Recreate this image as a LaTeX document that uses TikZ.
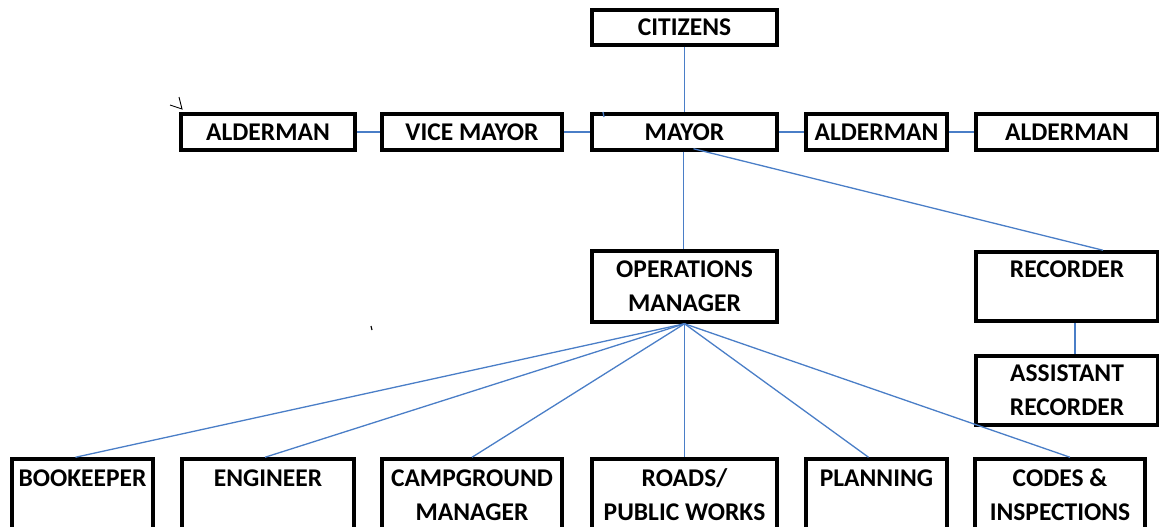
\documentclass[tikz,border=0pt]{standalone}
\usepackage{fontspec}
\setmainfont{Carlito}
\usepackage{tikz}

\definecolor{linkblue}{HTML}{4A7EC7}

\tikzset{
  post/.style={draw, line width=3.5pt, align=center, inner sep=0pt,
    font=\bfseries\fontsize{25.5}{34}\selectfont},
  link/.style={draw=linkblue, line width=1.3pt}
}

\begin{document}
\begin{tikzpicture}[x=1pt,y=-1pt]
      \clip (0,0) rectangle (1159,527);
      \useasboundingbox (0,0) rectangle (1159,527);

      % top
      \node[post,minimum width=185,minimum height=35] (citizens) at (684.5,27.5) {CITIZENS};
      \node[post,minimum width=185,minimum height=36] (mayor) at (684.5,132) {MAYOR};
      \node[post,minimum width=180,minimum height=36] (vice) at (472,132) {VICE MAYOR};
      \node[post,minimum width=174,minimum height=36] (alder1) at (268,132) {ALDERMAN};
      \node[post,minimum width=141,minimum height=36] (alder2) at (876.5,132) {ALDERMAN};
      \node[post,minimum width=182,minimum height=36] (alder3) at (1067,132) {ALDERMAN};

      % middle
      \node[post,minimum width=185,minimum height=71] (ops) at (684.5,286.5) {OPERATIONS\\MANAGER};
      \node[post,minimum width=182,minimum height=69] (recorder) at (1067,286.5) {RECORDER\\ \mbox{}};
      \node[post,minimum width=182,minimum height=69] (assist) at (1067,390.5) {ASSISTANT\\RECORDER};

      % bottom
      \node[post,minimum width=141,minimum height=72] (bookkeeper) at (82.5,495) {BOOKEEPER\\ \mbox{}};
      \node[post,minimum width=172,minimum height=72] (engineer) at (268,495) {ENGINEER\\ \mbox{}};
      \node[post,minimum width=180,minimum height=72] (camp) at (472,495) {CAMPGROUND\\MANAGER};
      \node[post,minimum width=185,minimum height=72] (roads) at (684.5,495) {ROADS/\\PUBLIC WORKS};
      \node[post,minimum width=141,minimum height=72] (planning) at (876.5,495) {PLANNING\\ \mbox{}};
      \node[post,minimum width=170,minimum height=72] (codes) at (1060,495) {CODES \&\\INSPECTIONS};

      \draw[link] (citizens) -- (mayor);
      \draw[link] (alder1) -- (vice);
      \draw[link] (vice) -- (mayor);
      \draw[link] (mayor) -- (alder2);
      \draw[link] (alder2) -- (alder3);
      \draw[link] ([xshift=-1]mayor.south) -- ([xshift=-1]ops.north);
      \draw[link] ([xshift=9,yshift=3]mayor.south) -- ([xshift=36]recorder.north);
      \draw[link] ([xshift=8]recorder.south) -- ([xshift=8]assist.north);

      \draw[link] (ops.south) -- ([xshift=-7]bookkeeper.north);
      \draw[link] (ops.south) -- ([xshift=-3]engineer.north);
      \draw[link] (ops.south) -- (camp.north);
      \draw[link] (ops.south) -- (roads.north);
      \draw[link] (ops.south) -- ([xshift=-8]planning.north);
      \draw[link] (ops.south) -- ([xshift=10]codes.north);

      % stray marks
      \draw[line width=0.9pt] (179,97) -- (182,109) -- (170,105);
      \draw[line width=1.2pt] (371,326) -- (372,330);
      \draw[link] (603,112) -- (604,117);
    \end{tikzpicture}
\end{document}
